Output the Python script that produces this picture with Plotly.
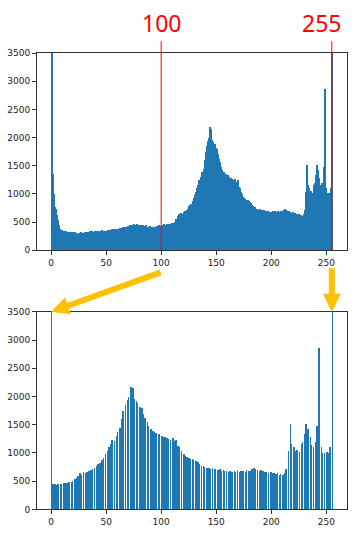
import plotly.graph_objects as go

# Histogram of the original image: counts for grey levels 0..255 (values above 3500 are clipped by the axis)
gray_levels = list(range(256))
orig_counts = [
    3600, 1350, 1000, 760, 740, 620, 530, 440, 380, 360,
    350, 340, 330, 335, 320, 330, 325, 310, 330, 320,
    315, 325, 300, 295, 290, 300, 310, 330, 315, 305,
    320, 325, 310, 330, 320, 335, 325, 340, 330, 335,
    345, 330, 340, 350, 335, 345, 355, 340, 350, 345,
    350, 360, 345, 365, 355, 370, 360, 375, 370, 380,
    385, 375, 395, 400, 390, 410, 405, 420, 415, 430,
    425, 440, 430, 450, 445, 465, 455, 450, 460, 445,
    440, 450, 435, 445, 430, 425, 440, 420, 415, 425,
    410, 420, 405, 415, 400, 410, 430, 420, 440, 435,
    450, 445, 460, 440, 455, 460, 450, 470, 465, 475,
    490, 480, 500, 550, 560, 600, 640, 620, 660, 650,
    670, 690, 700, 710, 740, 780, 800, 820, 870, 920,
    980, 1040, 1100, 1160, 1240, 1220, 1300, 1380, 1450, 1600,
    1740, 1850, 1940, 1990, 2180, 2150, 1960, 1920, 1880, 1820,
    1800, 1700, 1620, 1560, 1480, 1420, 1390, 1380, 1360, 1340,
    1330, 1300, 1290, 1280, 1270, 1250, 1230, 1260, 1210, 1240,
    1130, 1100, 1040, 990, 950, 930, 910, 900, 890, 870,
    860, 840, 800, 780, 770, 760, 740, 730, 720, 740,
    720, 710, 700, 720, 690, 700, 680, 690, 670, 680,
    660, 690, 670, 700, 660, 680, 690, 670, 700, 680,
    690, 710, 740, 720, 700, 690, 700, 680, 660, 670,
    650, 660, 640, 650, 630, 640, 620, 630, 610, 640,
    720, 1040, 1520, 1160, 1100, 1040, 1060, 1020, 1160, 1200,
    1340, 1520, 1420, 1280, 1150, 1100, 1200, 1480, 2870, 1100,
    1010, 1000, 1020, 1010, 1100, 3600,
]

# Contrast stretch of the range [100, 255] to [0, 255]
stretch_low = 100
stretch_high = 255
marker_labels = ["100", "255"]

stretched_counts = [0] * 256
for level, count in zip(gray_levels, orig_counts):
    if level <= stretch_low:
        new_level = 0
    else:
        new_level = min(255, int((level - stretch_low) * 255 / (stretch_high - stretch_low)))
    stretched_counts[new_level] += count

x_ticks = [0, 50, 100, 150, 200, 250]
y_ticks = [0, 500, 1000, 1500, 2000, 2500, 3000, 3500]

BLUE = "#1f77b4"
GOLD = "#FFC000"
W, H = 356, 536

fig = go.Figure()
fig.add_trace(go.Bar(x=[g + 0.5 for g in gray_levels], y=orig_counts, width=1,
                     marker=dict(color=BLUE, line=dict(width=0)),
                     xaxis="x", yaxis="y", showlegend=False))
fig.add_trace(go.Bar(x=[g + 0.5 for g in gray_levels], y=stretched_counts, width=0.55,
                     marker=dict(color=BLUE, line=dict(width=0)),
                     xaxis="x2", yaxis="y2", showlegend=False))

top_dom = [1 - 250 / H, 1 - 49 / H]
bot_dom = [1 - 514 / H, 1 - 312.7 / H]

axis_common = dict(
    showline=True, mirror=True, linecolor="#333333", linewidth=1,
    ticks="outside", ticklen=4, tickcolor="#333333", tickwidth=1,
    showgrid=False, zeroline=False,
    tickfont=dict(family="DejaVu Sans", size=9, color="#222222"),
)

fig.update_layout(
    width=W, height=H,
    margin=dict(l=37, r=9, t=0, b=0),
    paper_bgcolor="white", plot_bgcolor="white",
    bargap=0, barmode="overlay",
    xaxis=dict(domain=[0, 1], range=[-12.8, 268.8], tickvals=x_ticks, anchor="y", **axis_common),
    yaxis=dict(domain=top_dom, range=[0, 3500], tickvals=y_ticks, anchor="x", **axis_common),
    xaxis2=dict(domain=[0, 1], range=[-12.8, 268.8], tickvals=x_ticks, anchor="y2", **axis_common),
    yaxis2=dict(domain=bot_dom, range=[0, 3500], tickvals=y_ticks, anchor="x2", **axis_common),
)

# red marker lines and labels on the top histogram
ext = 1 + (49 - 37) / 201
for xv, lab, shift in [(stretch_low, marker_labels[0], 0), (stretch_high, marker_labels[1], -10)]:
    fig.add_shape(type="line", xref="x", yref="y domain", x0=xv, x1=xv, y0=0, y1=ext,
                  line=dict(color="red", width=1))
    fig.add_annotation(xref="x", yref="y domain", x=xv, y=ext, xshift=shift,
                       text=lab, showarrow=False, yanchor="bottom",
                       font=dict(family="Noto Sans", size=23, color="red"))

# gold arrows pointing into the stretched histogram
fig.add_annotation(xref="x2", yref="y2", x=0, y=3500, text="", showarrow=True,
                   ax=111, ay=-40, arrowhead=2, arrowsize=0.6, arrowwidth=6,
                   arrowcolor=GOLD, standoff=0)
fig.add_annotation(xref="x2", yref="y2", x=255, y=3500, text="", showarrow=True,
                   ax=0, ay=-45, arrowhead=2, arrowsize=0.6, arrowwidth=6,
                   arrowcolor=GOLD, standoff=0)

fig.write_html("out.html")
